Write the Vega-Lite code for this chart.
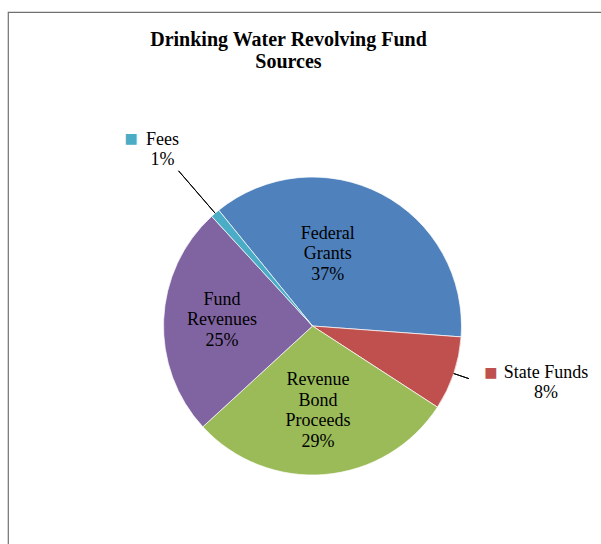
{
  "$schema": "https://vega.github.io/schema/vega-lite/v6.json",
  "width": 609,
  "height": 628,
  "autosize": {"type": "none"},
  "padding": {"left": 8, "top": 12, "right": 0, "bottom": 0},
  "background": "white",
  "view": {"stroke": "#707070", "strokeWidth": 1.2},
  "config": {"view": {"stroke": "#707070", "strokeWidth": 1.2}},
  "title": {
    "text": ["Drinking Water Revolving Fund", "Sources"],
    "font": "Liberation Serif",
    "fontSize": 20,
    "fontWeight": "bold",
    "color": "black",
    "anchor": "middle",
    "baseline": "top",
    "lineHeight": 22,
    "offset": 0,
    "dx": -24,
    "dy": 60
  },
  "data": {
    "values": [
      {"idx": 1, "name": "Federal Grants", "value": 37, "label": "Federal\nGrants\n37%"},
      {"idx": 2, "name": "State Funds", "value": 8, "label": "State Funds\n8%"},
      {"idx": 3, "name": "Revenue Bond Proceeds", "value": 29, "label": "Revenue\nBond\nProceeds\n29%"},
      {"idx": 4, "name": "Fund Revenues", "value": 25, "label": "Fund\nRevenues\n25%"},
      {"idx": 5, "name": "Fees", "value": 1, "label": "Fees\n1%"}
    ]
  },
  "encoding": {
    "theta": {"field": "value", "type": "quantitative", "stack": true, "scale": {"domain": [0, 100], "range": [-0.6807, 5.6025]}},
    "order": {"field": "idx", "type": "quantitative"},
    "detail": {"field": "name", "type": "nominal"}
  },
  "layer": [
    {
      "mark": {"type": "arc", "outerRadius": 149, "stroke": "white", "strokeWidth": 0.7},
      "encoding": {
        "color": {
          "field": "name", "type": "nominal", "legend": null,
          "scale": {
            "domain": ["Federal Grants", "State Funds", "Revenue Bond Proceeds", "Fund Revenues", "Fees"],
            "range": ["#4F81BD", "#C0504D", "#9BBB59", "#8064A2", "#4BACC6"]
          }
        }
      }
    },
    {
      "mark": {"type": "arc", "innerRadius": 149, "outerRadius": 165, "fill": null, "strokeWidth": 1, "padAngle": 1.5},
      "encoding": {
        "stroke": {"condition": {"test": "datum.name === 'State Funds'", "value": "black"}, "value": null}
      }
    },
    {
      "mark": {"type": "arc", "innerRadius": 149, "outerRadius": 205, "fill": null, "strokeWidth": 1, "padAngle": 1.5},
      "encoding": {
        "stroke": {"condition": {"test": "datum.name === 'Fees'", "value": "black"}, "value": null}
      }
    },
    {
      "mark": {"type": "text", "radius": 75, "dx": -19.6, "dy": -26, "font": "Liberation Serif", "fontSize": 18, "lineBreak": "\n", "lineHeight": 20.5, "align": "center", "baseline": "middle", "color": "black"},
      "encoding": {"text": {"condition": {"test": "datum.name === 'Federal Grants'", "field": "label"}, "value": ""}}
    },
    {
      "mark": {"type": "text", "radius": 90, "dx": -0.6, "dy": -22.5, "font": "Liberation Serif", "fontSize": 18, "lineBreak": "\n", "lineHeight": 20.5, "align": "center", "baseline": "middle", "color": "black"},
      "encoding": {"text": {"condition": {"test": "datum.name === 'Fund Revenues'", "field": "label"}, "value": ""}}
    },
    {
      "mark": {"type": "text", "radius": 85, "dx": -1.6, "dy": -30.5, "font": "Liberation Serif", "fontSize": 18, "lineBreak": "\n", "lineHeight": 20.5, "align": "center", "baseline": "middle", "color": "black"},
      "encoding": {"text": {"condition": {"test": "datum.name === 'Revenue Bond Proceeds'", "field": "label"}, "value": ""}}
    },
    {
      "mark": {"type": "text", "radius": 231, "dx": 1, "dy": -11, "font": "Liberation Serif", "fontSize": 18, "lineBreak": "\n", "lineHeight": 20, "align": "center", "baseline": "middle", "color": "black"},
      "encoding": {"text": {"condition": {"test": "datum.name === 'Fees'", "field": "label"}, "value": ""}}
    },
    {
      "mark": {"type": "text", "radius": 240, "dx": 6, "dy": -30, "font": "Liberation Serif", "fontSize": 18, "lineBreak": "\n", "lineHeight": 20, "align": "center", "baseline": "middle", "color": "black"},
      "encoding": {"text": {"condition": {"test": "datum.name === 'State Funds'", "field": "label"}, "value": ""}}
    },
    {
      "mark": {"type": "text", "radius": 231, "dx": -30.5, "dy": -12.3, "font": "DejaVu Sans", "fontSize": 14, "align": "center", "baseline": "middle", "color": "#4BACC6"},
      "encoding": {"text": {"condition": {"test": "datum.name === 'Fees'", "value": "■"}, "value": ""}}
    },
    {
      "mark": {"type": "text", "radius": 240, "dx": -49, "dy": -29.7, "font": "DejaVu Sans", "fontSize": 14, "align": "center", "baseline": "middle", "color": "#C0504D"},
      "encoding": {"text": {"condition": {"test": "datum.name === 'State Funds'", "value": "■"}, "value": ""}}
    }
  ]
}
